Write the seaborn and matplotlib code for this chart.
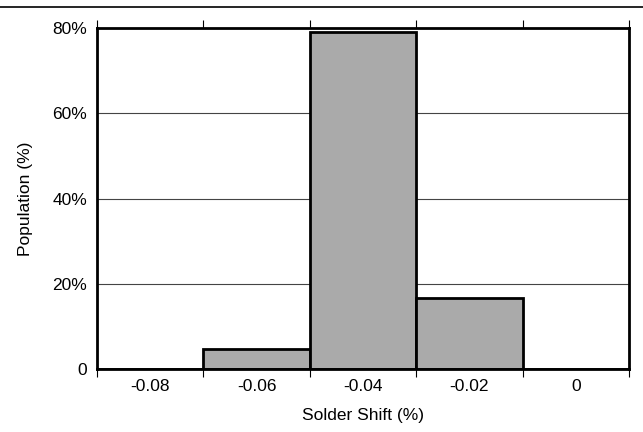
import numpy as np
import pandas as pd
import matplotlib
matplotlib.use("Agg")
import matplotlib.pyplot as plt
from matplotlib.lines import Line2D
import seaborn as sns

# histogram data
shift_centers = [-0.08, -0.06, -0.04, -0.02, 0.0]
population_pct = [0.0, 4.6, 79.1, 16.6, 0.0]
center_labels = ["-0.08", "-0.06", "-0.04", "-0.02", "0"]
y_ticks = [0, 20, 40, 60, 80]
y_labels = ["0", "20%", "40%", "60%", "80%"]

sns.set_style("white")
plt.rcParams["font.family"] = ["Liberation Sans", "DejaVu Sans"]
plt.rcParams["text.color"] = "black"
plt.rcParams["axes.labelcolor"] = "black"
plt.rcParams["xtick.color"] = "black"
plt.rcParams["ytick.color"] = "black"

bin_w = 0.02
edges = list(np.append(np.array(shift_centers) - bin_w / 2, shift_centers[-1] + bin_w / 2))
df = pd.DataFrame({"shift": shift_centers, "pct": population_pct})

fig = plt.figure(figsize=(6.43, 4.32), dpi=100)
ax = fig.add_axes([0.1509, 0.1458, 0.8273, 0.7894])

for y in y_ticks[1:-1]:
    ax.axhline(y, color="#444444", lw=0.8, zorder=0)

sns.histplot(data=df, x="shift", weights="pct", bins=edges, ax=ax,
             color="#aaaaaa", alpha=1, edgecolor="black", linewidth=2, zorder=2)

ax.set_xlim(edges[0], edges[-1])
ax.set_ylim(0, 80)

# tick marks on bin edges, labels on bin centres
ax.set_xticks(edges)
ax.set_xticklabels([])
ax.set_xticks(shift_centers, minor=True)
ax.set_xticklabels(center_labels, minor=True, fontsize=12.5)
ax.tick_params(axis="x", which="major", direction="out", length=6, width=0.8,
               top=True, bottom=True, color="black")
ax.tick_params(axis="x", which="minor", length=0, pad=7)

ax.set_yticks(y_ticks)
ax.set_yticklabels(y_labels, fontsize=12.5)
ax.tick_params(axis="y", length=0, pad=7)

for s in ax.spines.values():
    s.set_linewidth(2)
    s.set_color("black")

ax.set_xlabel("Solder Shift (%)", fontsize=12.5, labelpad=10)
ax.set_ylabel("Population (%)", fontsize=12.5, labelpad=14)

fig.add_artist(Line2D([0, 1], [0.984, 0.984], color="black", lw=1.2,
                      transform=fig.transFigure))

fig.savefig("out.png", dpi=100)
